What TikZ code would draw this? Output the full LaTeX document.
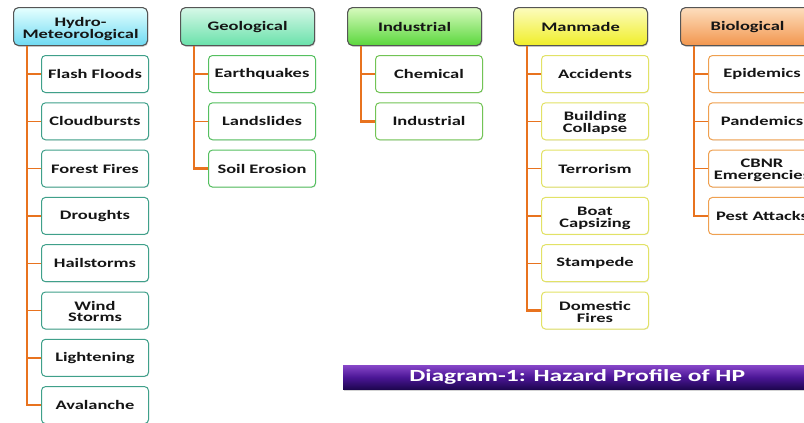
\documentclass[tikz,border=0pt]{standalone}
\usepackage{fontspec}
\setmainfont{Carlito}
\usepackage{graphicx}
\usetikzlibrary{calc,shadows}
\definecolor{conn}{HTML}{E8731F}
\definecolor{hyB}{HTML}{3FA08A}
\definecolor{geB}{HTML}{55C060}
\definecolor{inB}{HTML}{72C455}
\definecolor{mmB}{HTML}{E2E266}
\definecolor{biB}{HTML}{EFA050}
\definecolor{hdrB}{HTML}{555555}
\definecolor{txt}{HTML}{151515}
\newcommand{\W}[1]{\scalebox{1.42}[1]{#1}}
\newcommand{\WW}[2]{\raisebox{-2.5pt}[\height][\depth]{\scalebox{1.42}[1]{\renewcommand{\arraystretch}{0.82}\begin{tabular}{@{}c@{}}#1\\#2\end{tabular}}}}
\tikzset{
  hdr/.style={draw=hdrB, line width=1.1pt, rounded corners=5pt, minimum width=134pt, minimum height=38pt,
    anchor=north west, inner sep=1pt, text=txt, font=\fontsize{13}{12}\selectfont\bfseries,
    drop shadow={shadow xshift=0.8pt, shadow yshift=-1.2pt, opacity=0.35}},
  kid/.style={draw=#1, line width=1pt, fill=white, rounded corners=4pt, minimum width=107pt, minimum height=37pt,
    anchor=north west, inner sep=1pt, text=txt, font=\fontsize{13}{12}\selectfont\bfseries,
    drop shadow={shadow xshift=0.6pt, shadow yshift=-0.8pt, opacity=0.2}},
  trunk/.style={draw=conn, line width=2.4pt},
  branch/.style={draw=conn, line width=1.4pt},
}
\begin{document}
\begin{tikzpicture}[x=1pt,y=-1pt]
\useasboundingbox (0,0) rectangle (804,423);
\clip (0,0) rectangle (804,423);
% headers
\node[hdr, top color=cyan!10, bottom color={rgb,255:red,110;green,218;blue,242}] (h1) at (13,7) {\WW{Hydro-}{Meteorological}};
\node[hdr, top color={rgb,255:red,215;green,248;blue,232}, bottom color={rgb,255:red,105;green,225;blue,170}] (h2) at (180,7) {\W{Geological}};
\node[hdr, top color={rgb,255:red,215;green,250;blue,190}, bottom color={rgb,255:red,90;green,215;blue,60}] (h3) at (347,7) {\W{Industrial}};
\node[hdr, top color={rgb,255:red,252;green,252;blue,190}, bottom color={rgb,255:red,240;green,238;blue,40}] (h4) at (513,7) {\W{Manmade}};
\node[hdr, top color={rgb,255:red,253;green,222;blue,190}, bottom color={rgb,255:red,242;green,150;blue,78}] (h5) at (680,7) {\W{Biological}};
% trunk coordinates
\coordinate (t1) at ($(h1.south west)+(14,0)$);
\coordinate (t2) at ($(h2.south west)+(14,0)$);
\coordinate (t3) at ($(h3.south west)+(14,0)$);
\coordinate (t4) at ($(h4.south west)+(14,0)$);
\coordinate (t5) at ($(h5.south west)+(14,0)$);
% Hydro children
\node[kid=hyB] (a1) at (41,55)  {\W{Flash Floods}};
\node[kid=hyB] (a2) at (41,102.3) {\W{Cloudbursts}};
\node[kid=hyB] (a3) at (41,149.6) {\W{Forest Fires}};
\node[kid=hyB] (a4) at (41,196.9) {\W{Droughts}};
\node[kid=hyB] (a5) at (41,244.2) {\W{Hailstorms}};
\node[kid=hyB] (a6) at (41,291.5) {\WW{Wind}{Storms}};
\node[kid=hyB] (a7) at (41,338.8) {\W{Lightening}};
\node[kid=hyB] (a8) at (41,386.1) {\W{Avalanche}};
% Geological children
\node[kid=geB] (b1) at (208,55)  {\W{Earthquakes}};
\node[kid=geB] (b2) at (208,102.3) {\W{Landslides}};
\node[kid=geB] (b3) at (208,149.6) {\W{Soil Erosion}};
% Industrial children
\node[kid=inB] (c1) at (375,55)  {\W{Chemical}};
\node[kid=inB] (c2) at (375,102.3) {\W{Industrial}};
% Manmade children
\node[kid=mmB] (d1) at (541,55)  {\W{Accidents}};
\node[kid=mmB] (d2) at (541,102.3) {\WW{Building}{Collapse}};
\node[kid=mmB] (d3) at (541,149.6) {\W{Terrorism}};
\node[kid=mmB] (d4) at (541,196.9) {\WW{Boat}{Capsizing}};
\node[kid=mmB] (d5) at (541,244.2) {\W{Stampede}};
\node[kid=mmB] (d6) at (541,291.5) {\WW{Domestic}{Fires}};
% Biological children
\node[kid=biB] (e1) at (708,55)  {\W{Epidemics}};
\node[kid=biB] (e2) at (708,102.3) {\W{Pandemics}};
\node[kid=biB] (e3) at (708,149.6) {\WW{CBNR}{Emergencies}};
\node[kid=biB] (e4) at (708,196.9) {\W{Pest Attacks}};
% trunks
\draw[trunk] (t1) |- (a8.west);
\draw[trunk] (t2) |- (b3.west);
\draw[trunk] (t3) |- (c2.west);
\draw[trunk] (t4) |- (d6.west);
\draw[trunk] (t5) |- (e4.west);
% branches
\foreach \n in {a1,a2,a3,a4,a5,a6,a7} \draw[branch] (t1 |- \n.west) -- (\n.west);
\foreach \n in {b1,b2} \draw[branch] (t2 |- \n.west) -- (\n.west);
\foreach \n in {c1} \draw[branch] (t3 |- \n.west) -- (\n.west);
\foreach \n in {d1,d2,d3,d4,d5} \draw[branch] (t4 |- \n.west) -- (\n.west);
\foreach \n in {e1,e2,e3} \draw[branch] (t5 |- \n.west) -- (\n.west);
% caption bar
\node[anchor=north west, minimum width=468pt, minimum height=24pt, inner sep=0pt,
  top color={rgb,255:red,135;green,70;blue,200}, bottom color={rgb,255:red,30;green,6;blue,80},
  middle color={rgb,255:red,75;green,22;blue,150},
  drop shadow={shadow xshift=0.8pt, shadow yshift=-1.5pt, opacity=0.35},
  text=white, font=\fontsize{17}{17}\selectfont\bfseries] (cap) at (343,365) {\scalebox{1.5}[1]{Diagram-1: Hazard Profile of HP}};
\end{tikzpicture}
\end{document}
